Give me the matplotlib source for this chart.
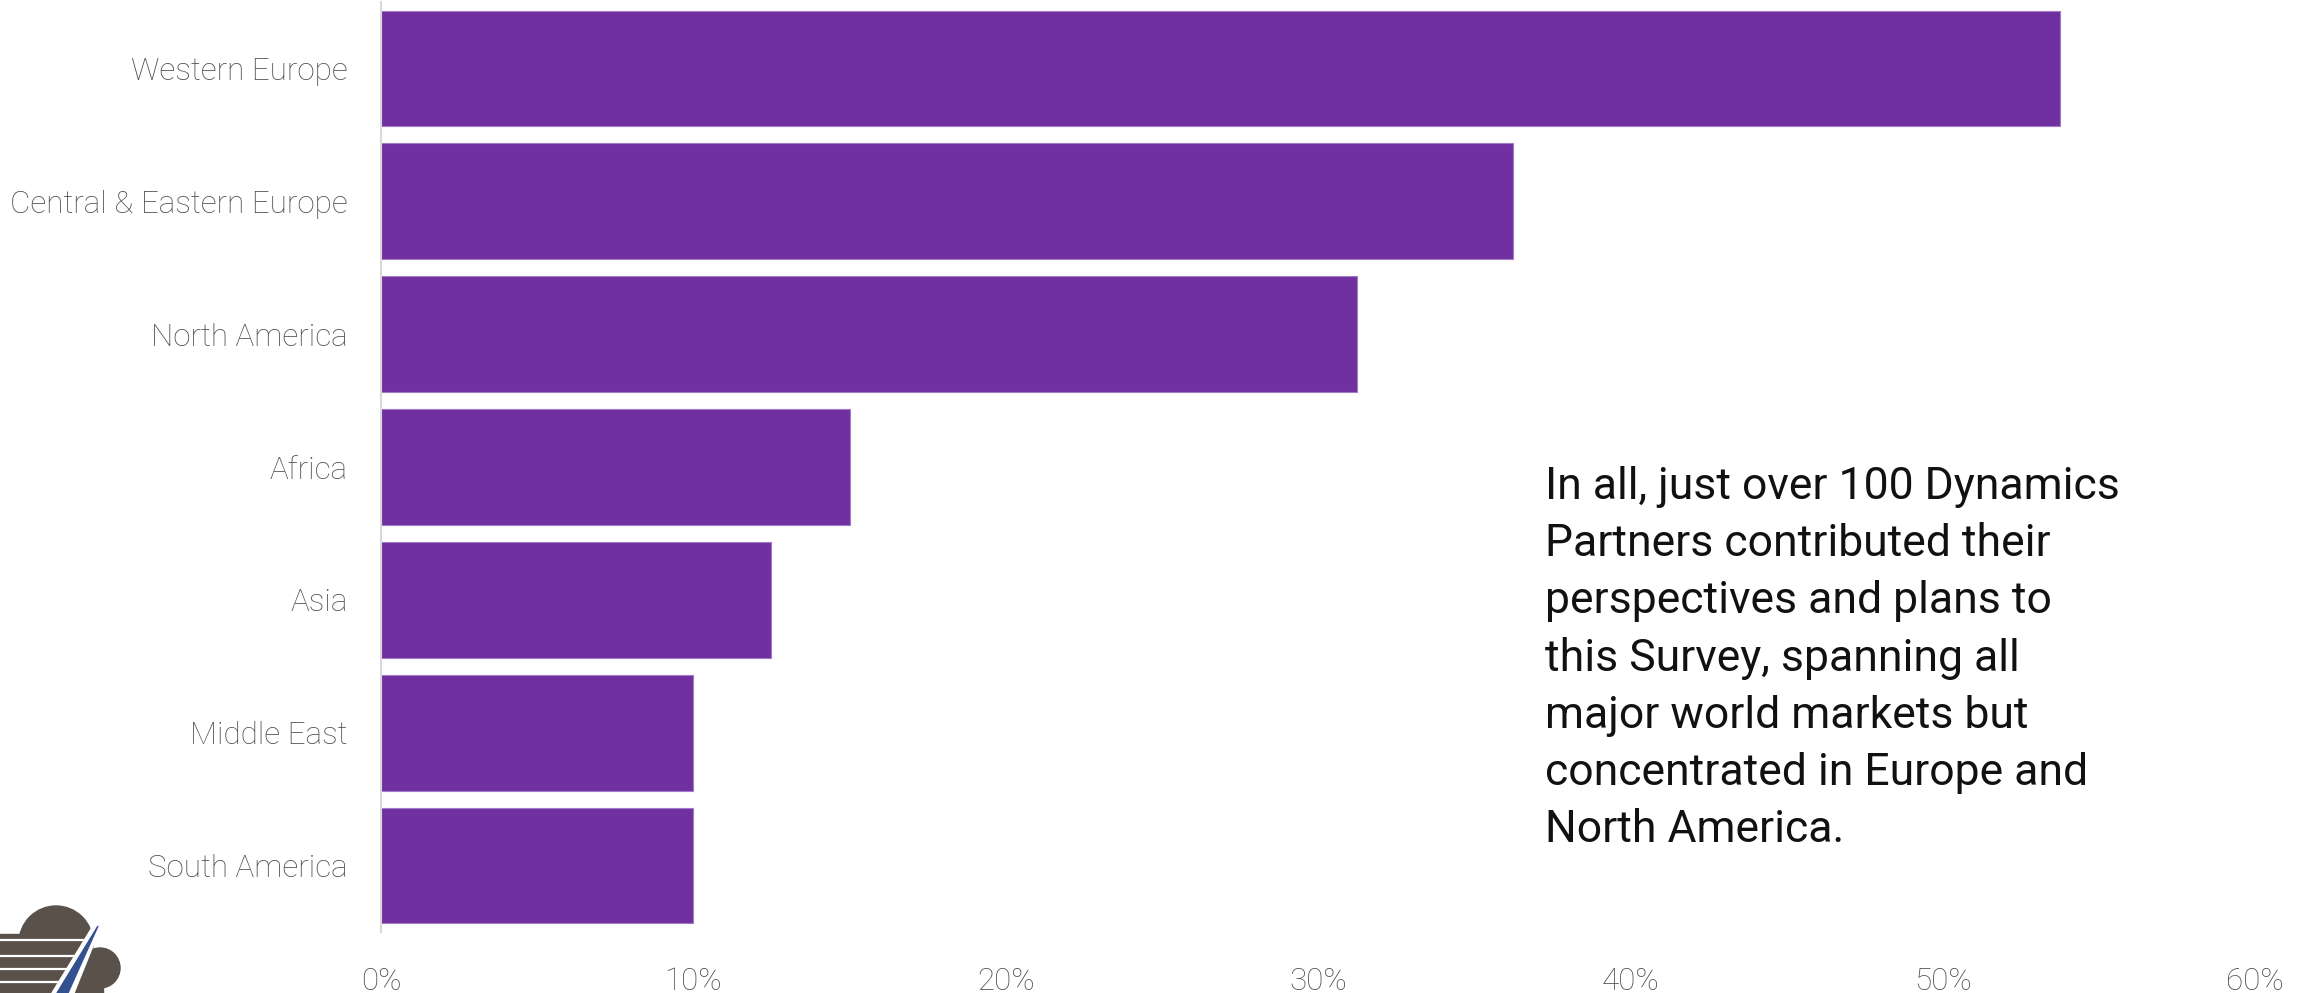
import matplotlib
matplotlib.use("Agg")
import matplotlib.pyplot as plt
from matplotlib.patches import Circle, Rectangle, Polygon

# Share of responding partners by region (%)
regions = [
    "Western Europe",
    "Central & Eastern Europe",
    "North America",
    "Africa",
    "Asia",
    "Middle East",
    "South America",
]
share = [53.75, 36.25, 31.25, 15.0, 12.5, 10.0, 10.0]
x_ticks = [0, 10, 20, 30, 40, 50, 60]
x_tick_labels = [f"{t}%" for t in x_ticks]

note_lines = [
    "In all, just over 100 Dynamics",
    "Partners contributed their",
    "perspectives and plans to",
    "this Survey, spanning all",
    "major world markets but",
    "concentrated in Europe and",
    "North America.",
]

W, H = 2313, 993
BAR = "#7030A0"
GREY = "#4f4f4f"
FONT = "Roboto"

fig = plt.figure(figsize=(W / 100, H / 100), dpi=100)
fig.patch.set_facecolor("white")

ax = fig.add_axes([381 / W, 1 - 932 / H, (2255 - 381) / W, (932 - 2) / H])
ypos = list(range(len(regions)))
ax.barh(ypos, share, height=0.87, color=BAR, edgecolor="#a27bc8", linewidth=0.8)
ax.set_xlim(0, 60)
ax.set_ylim(len(regions) - 0.5, -0.5)
ax.set_xticks(x_ticks, x_tick_labels)
ax.set_yticks(ypos, regions)
ax.tick_params(length=0, labelsize=22.6, labelcolor=GREY)
ax.tick_params(axis="y", pad=24)
ax.tick_params(axis="x", pad=25)
for lbl in ax.get_xticklabels() + ax.get_yticklabels():
    lbl.set_fontfamily(FONT)
    lbl.set_fontweight("light")
for s in ["top", "right", "bottom"]:
    ax.spines[s].set_visible(False)
ax.spines["left"].set_color("#d9d9d9")
ax.spines["left"].set_linewidth(1.5)

# side note; baseline alignment pins the last line
fig.text(1545 / W, 1 - 842 / H, "\n".join(note_lines), ha="left", va="baseline",
         fontsize=32, family=FONT, color="#111111", linespacing=1.45)

# cloud logo in the bottom-left corner, drawn in pixel units
lg = fig.add_axes([0, 0, 130 / W, 123 / H])
lg.set_xlim(0, 130)
lg.set_ylim(993, 870)
lg.axis("off")
brown = "#5a514b"
lg.add_patch(Circle((56, 943), 37, color=brown))
lg.add_patch(Circle((100, 968), 20, color=brown))
lg.add_patch(Rectangle((0, 934), 70, 70, color=brown))
lg.add_patch(Rectangle((55, 960), 48, 40, color=brown))
for y in [940, 956, 969, 982]:
    x_end = 98 - (y - 925) * 45 / 68
    lg.plot([0, x_end], [y, y], color="white", lw=1.6, solid_capstyle="butt")
lg.add_patch(Polygon([(96, 921), (103, 921), (74, 993), (52, 993)], color="white"))
lg.add_patch(Polygon([(98, 926), (68, 993), (57, 993)], color="#34518f"))

fig.savefig("out.png", dpi=100, facecolor="white")
